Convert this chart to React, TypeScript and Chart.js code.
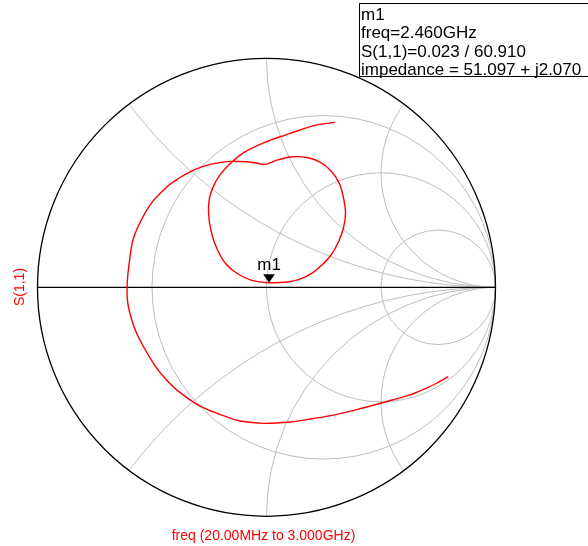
import React, { useEffect, useRef } from "react";
import { Chart, registerables } from "chart.js";

Chart.register(...registerables);

// S(1,1) trace, reflection coefficient (real / imaginary), 20 MHz -> 3 GHz
const s11Re = [
  0.794, 0.743, 0.685, 0.627, 0.510, 0.394, 0.292, 0.204, 0.103, -0.014,
  -0.116, -0.174, -0.290, -0.392, -0.447, -0.494, -0.567, -0.603, -0.609, -0.599,
  -0.579, -0.509, -0.436, -0.386, -0.334, -0.277, -0.225, -0.159, -0.086, -0.046,
  -0.014, 0.008, 0.045, 0.103, 0.176, 0.234, 0.282, 0.317, 0.336, 0.345,
  0.336, 0.314, 0.282, 0.242, 0.199, 0.146, 0.090, 0.0112, -0.064, -0.124,
  -0.177, -0.214, -0.240, -0.253, -0.249, -0.231, -0.203, -0.164, -0.103, -0.010,
  0.088, 0.146, 0.219, 0.299,
];
const s11Im = [
  -0.390, -0.419, -0.446, -0.470, -0.503, -0.534, -0.558, -0.573, -0.588, -0.594,
  -0.584, -0.566, -0.519, -0.448, -0.393, -0.332, -0.201, -0.085, 0.000, 0.110,
  0.221, 0.359, 0.438, 0.474, 0.504, 0.528, 0.541, 0.550, 0.548, 0.543,
  0.536, 0.540, 0.555, 0.569, 0.567, 0.547, 0.508, 0.456, 0.391, 0.325,
  0.259, 0.198, 0.141, 0.097, 0.062, 0.036, 0.023, 0.0201, 0.030, 0.058,
  0.102, 0.163, 0.237, 0.320, 0.390, 0.443, 0.491, 0.535, 0.586, 0.632,
  0.667, 0.687, 0.709, 0.720,
];

// Smith grid values
const resistanceCircles = [1 / 3, 1, 3];
const reactanceArcs = [0.5, 1, 2, -0.5, -1, -2];

// Marker m1
const markerName = "m1";
const markerFreq = "2.460GHz";
const markerMag = 0.023;
const markerAngleDeg = 60.91;
const markerMagText = "0.023";
const markerAngleText = "60.910";
const markerZ = "51.097 + j2.070";

const traceLabel = "S(1,1)";
const sweepLabel = "freq (20.00MHz to 3.000GHz)";

const FONT = "'Liberation Sans', Arial, sans-serif";

const smithPlugin = {
  id: "smith",
  beforeDatasetsDraw(chart: any) {
    const ctx = chart.ctx as CanvasRenderingContext2D;
    const xs = chart.scales.x;
    const ys = chart.scales.y;
    const cx = xs.getPixelForValue(0);
    const cy = ys.getPixelForValue(0);
    const R = xs.getPixelForValue(1) - cx;
    ctx.save();
    ctx.beginPath();
    ctx.arc(cx, cy, R, 0, Math.PI * 2);
    ctx.clip();
    ctx.strokeStyle = "#bdbdbd";
    ctx.lineWidth = 1;
    for (const r of resistanceCircles) {
      const c = r / (1 + r);
      const rad = 1 / (1 + r);
      ctx.beginPath();
      ctx.arc(cx + c * R, cy, rad * R, 0, Math.PI * 2);
      ctx.stroke();
    }
    for (const x of reactanceArcs) {
      const rad = 1 / Math.abs(x);
      ctx.beginPath();
      ctx.arc(cx + R, cy - (1 / x) * R, rad * R, 0, Math.PI * 2);
      ctx.stroke();
    }
    ctx.restore();
    ctx.save();
    ctx.strokeStyle = "#000";
    ctx.lineWidth = 1.3;
    ctx.beginPath();
    ctx.moveTo(cx - R, cy);
    ctx.lineTo(cx + R, cy);
    ctx.stroke();
    ctx.beginPath();
    ctx.arc(cx, cy, R, 0, Math.PI * 2);
    ctx.stroke();
    ctx.restore();
  },
  afterDatasetsDraw(chart: any) {
    const ctx = chart.ctx as CanvasRenderingContext2D;
    const xs = chart.scales.x;
    const ys = chart.scales.y;
    const a = (markerAngleDeg * Math.PI) / 180;
    const mx = xs.getPixelForValue(markerMag * Math.cos(a));
    const my = ys.getPixelForValue(markerMag * Math.sin(a));
    ctx.save();
    // marker triangle
    ctx.fillStyle = "#000";
    ctx.beginPath();
    ctx.moveTo(mx, my);
    ctx.lineTo(mx - 5.8, my - 8.5);
    ctx.lineTo(mx + 5.8, my - 8.5);
    ctx.closePath();
    ctx.fill();
    ctx.font = `17px ${FONT}`;
    ctx.textAlign = "center";
    ctx.textBaseline = "alphabetic";
    ctx.fillText(markerName, mx, my - 12.3);

    // readout box
    ctx.strokeStyle = "#000";
    ctx.lineWidth = 1;
    ctx.strokeRect(359.5, 3.5, 240, 73);
    ctx.textAlign = "left";
    const lines = [
      markerName,
      `freq=${markerFreq}`,
      `S(1,1)=${markerMagText} / ${markerAngleText}`,
      `impedance = ${markerZ}`,
    ];
    lines.forEach((t, i) => ctx.fillText(t, 361, 20 + i * 18.35));

    // axis labels
    ctx.fillStyle = "#ff0000";
    ctx.font = `14px ${FONT}`;
    ctx.textAlign = "center";
    ctx.fillText(sweepLabel, 263.5, 539.5);
    ctx.translate(24, 287);
    ctx.rotate(-Math.PI / 2);
    ctx.fillText(traceLabel, 0, 0);
    ctx.restore();
  },
};

export default function App() {
  const ref = useRef<HTMLCanvasElement>(null);
  useEffect(() => {
    if (!ref.current) return;
    const data = s11Re.map((re, i) => ({ x: re, y: s11Im[i] }));
    const chart = new Chart(ref.current, {
      type: "scatter",
      data: {
        datasets: [
          {
            label: traceLabel,
            data,
            showLine: true,
            borderColor: "#ff0000",
            backgroundColor: "#ff0000",
            borderWidth: 1.4,
            pointRadius: 0,
            tension: 0.3,
          },
        ],
      },
      options: {
        animation: false,
        responsive: false,
        maintainAspectRatio: false,
        layout: { padding: { left: 37.5, right: 92.5, top: 58.3, bottom: 29.7 } },
        scales: {
          x: { type: "linear", min: -1, max: 1, display: false },
          y: { type: "linear", min: -1, max: 1, display: false },
        },
        plugins: { legend: { display: false }, tooltip: { enabled: false } },
      },
      plugins: [smithPlugin],
    });
    return () => chart.destroy();
  }, []);
  return (
    <div style={{ position: "absolute", left: 0, top: 0, width: 588, height: 546, background: "#fff" }}>
      <canvas ref={ref} width={588} height={546} style={{ display: "block" }} />
    </div>
  );
}
